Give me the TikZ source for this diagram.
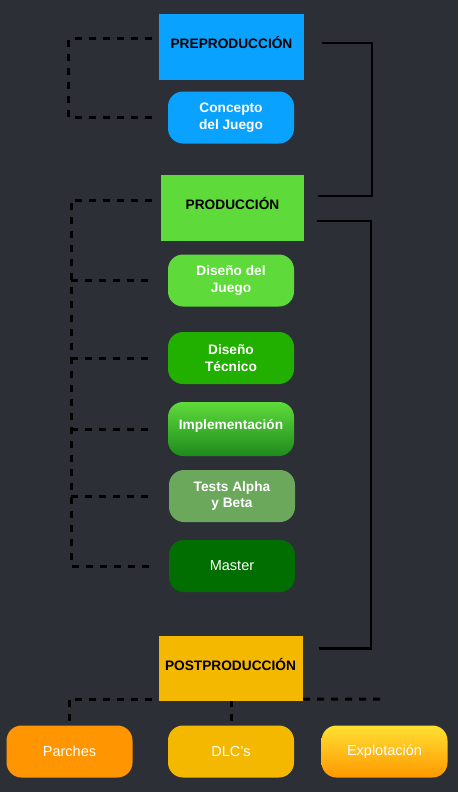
\documentclass[tikz,border=0pt]{standalone}
\usepackage{fontspec}
\setmainfont{Liberation Sans}

\definecolor{bgdark}{HTML}{2D2F36}
\definecolor{preblue}{HTML}{0AA2FF}
\definecolor{prodgreen}{HTML}{5EDB3A}
\definecolor{midgreen}{HTML}{22B000}
\definecolor{impdark}{HTML}{1E8A1E}
\definecolor{testgreen}{HTML}{6CA85C}
\definecolor{mastgreen}{HTML}{006E00}
\definecolor{postamber}{HTML}{F5B800}
\definecolor{parorange}{HTML}{FF9500}
\definecolor{expyellow}{HTML}{FFE033}
\definecolor{exporange}{HTML}{FF9800}

\begin{document}
\begin{tikzpicture}[x=1pt, y=-1pt,
  phase/.style={rectangle, inner sep=0pt, text=black, align=center,
    text height=10pt, text depth=6.2pt,
    font=\fontsize{13.7}{16.7}\selectfont\bfseries},
  task/.style={rectangle, rounded corners=15pt, minimum width=126pt,
    minimum height=52pt, inner sep=0pt, align=center, text=white,
    font=\fontsize{13.7}{16.7}\selectfont\bfseries},
  plain/.style={task, font=\fontsize{14.5}{17}\selectfont},
  dashline/.style={black, line width=3pt, dash pattern=on 7pt off 7pt},
  solidline/.style={black, line width=2.2pt}]
  \fill[bgdark] (0,0) rectangle (458,792); % background

  % phases
  \node[phase, fill=preblue, minimum width=145pt, minimum height=66pt] (pre) at (231.5,47) {PREPRODUCCIÓN};
  \node[phase, fill=prodgreen, minimum width=143pt, minimum height=66pt] (prod) at (232.5,208) {PRODUCCIÓN};
  \node[phase, fill=postamber, minimum height=65pt, text width=132pt, inner xsep=6pt, align=left] (post) at (231,668.5) {POSTPRODUCCIÓN};

  % preproduction task
  \node[task, fill=preblue] (con) at (231,117.5) {Concepto\\del Juego};

  % production tasks
  \node[task, fill=prodgreen] (dj) at (231,280.5) {Diseño del\\Juego};
  \node[task, fill=midgreen] (dt) at (231,358) {Diseño\\Técnico};
  \node[task, top color=prodgreen, bottom color=impdark, minimum height=54pt, text depth=10pt] (imp) at (231,429) {Implementación};
  \node[task, fill=testgreen] (tab) at (232,496) {Tests Alpha\\y Beta};
  \node[plain, fill=mastgreen] (mas) at (232,566) {Master};

  % postproduction tasks
  \node[plain, fill=parorange] (par) at (69.5,751.5) {Parches};
  \node[plain, fill=postamber] (dlc) at (231,751.5) {DLC's};
  \node[plain, top color=expyellow, bottom color=exporange] (exp) at (384.5,751.5) {Explotación};

  % dashed brackets on the left
  \draw[dashline] ([xshift=-7pt,yshift=8pt]pre.west) -- ++(-83,0) |- ([xshift=-16pt]con.west);
  \coordinate (rail) at (71,200);
  \draw[dashline] ([xshift=-9pt,yshift=8pt]prod.west) -- (rail) |- ([xshift=-15pt]mas.west);
  \foreach \n in {dj,dt,imp,tab} {
    \draw[dashline] (rail |- \n.west) -- ([xshift=-15pt]\n.west);
  }

  % dashed line under postproduction
  \coordinate (postend) at (387,699);
  \draw[dashline] ([yshift=4pt]par.north) |- ([yshift=2pt]post.south west);
  \draw[dashline] ([yshift=2pt]post.south east) -- (postend);
  \draw[dashline] ([yshift=4pt]dlc.north) -- (dlc.north |- post.south);

  % solid brackets on the right
  \draw[solidline] ([xshift=18pt,yshift=4pt]pre.east) -- ++(50,0) |- ([xshift=14pt,yshift=12pt]prod.east);
  \draw[solidline] ([xshift=13pt,yshift=-13pt]prod.east) -- ++(54,0) |- ([xshift=16pt,yshift=20pt]post.east);
\end{tikzpicture}
\end{document}
